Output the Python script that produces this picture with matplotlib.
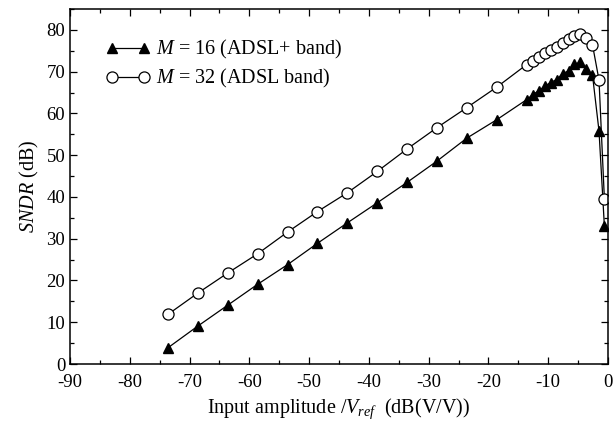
import numpy as np
import matplotlib.pyplot as plt
from matplotlib.ticker import MultipleLocator

plt.rcParams['font.family'] = ['Liberation Serif', 'DejaVu Serif']
plt.rcParams['mathtext.fontset'] = 'custom'
plt.rcParams['mathtext.rm'] = 'Liberation Serif'
plt.rcParams['mathtext.it'] = 'Liberation Serif:italic'
plt.rcParams['axes.unicode_minus'] = False

# input amplitude (dB(V/V)), same sweep for both curves
x_in = [-73.6, -68.6, -63.6, -58.6, -53.6, -48.6, -43.6, -38.6, -33.6, -28.6,
        -23.6, -18.6, -13.6, -12.6, -11.6, -10.6, -9.6, -8.6, -7.6, -6.6,
        -5.6, -4.6, -3.6, -2.6, -1.5, -0.6]

# M = 16 (ADSL+ band)
sndr_16 = [3.9, 9.1, 14.1, 19.1, 23.8, 28.9, 33.8, 38.6, 43.5, 48.6,
           54.1, 58.5, 63.3, 64.5, 65.4, 66.5, 67.4, 68.1, 69.5, 70.2,
           71.8, 72.2, 70.6, 69.3, 55.8, 33.0]

# M = 32 (ADSL band)
sndr_32 = [11.9, 17.0, 21.8, 26.4, 31.6, 36.5, 41.0, 46.1, 51.5, 56.6,
           61.4, 66.3, 71.7, 72.6, 73.4, 74.4, 75.1, 76.0, 76.9, 77.9,
           78.5, 79.1, 78.1, 76.5, 68.0, 39.5]

fig = plt.figure(figsize=(6.13, 4.25), dpi=100)
ax = fig.add_axes([0.1142, 0.1435, 0.8776, 0.8353])

ax.plot(x_in, sndr_16, color='black', lw=0.9, marker='^', ms=7.5,
        mfc='black', mec='black', label='$M$ = 16 (ADSL+ band)')
ax.plot(x_in, sndr_32, color='black', lw=0.9, marker='o', ms=8,
        mfc='white', mec='black', mew=0.9, label='$M$ = 32 (ADSL band)')

ax.set_xlim(-90, 0)
ax.set_ylim(0, 85)
ax.xaxis.set_major_locator(MultipleLocator(10))
ax.xaxis.set_minor_locator(MultipleLocator(5))
ax.yaxis.set_major_locator(MultipleLocator(10))
ax.yaxis.set_minor_locator(MultipleLocator(5))
ax.tick_params(which='both', direction='in', top=True, right=True, labelsize=13.5)
ax.tick_params(which='major', length=5, width=0.9)
ax.tick_params(which='minor', length=3, width=0.9)
ax.tick_params(axis='x', pad=7)
for s in ax.spines.values():
    s.set_linewidth(1.1)

ax.set_xlabel('Input amplitude /$V_{ref}$  (dB(V/V))', fontsize=14.5, labelpad=4)
ax.set_ylabel('$SNDR$ (dB)', fontsize=14.5, labelpad=4)

ax.legend(loc='upper left', bbox_to_anchor=(0.052, 0.94), frameon=False,
          fontsize=14.5, numpoints=2, handlelength=2.2, handletextpad=0.3,
          labelspacing=0.3, borderaxespad=0)

fig.savefig('out.png', dpi=100)
